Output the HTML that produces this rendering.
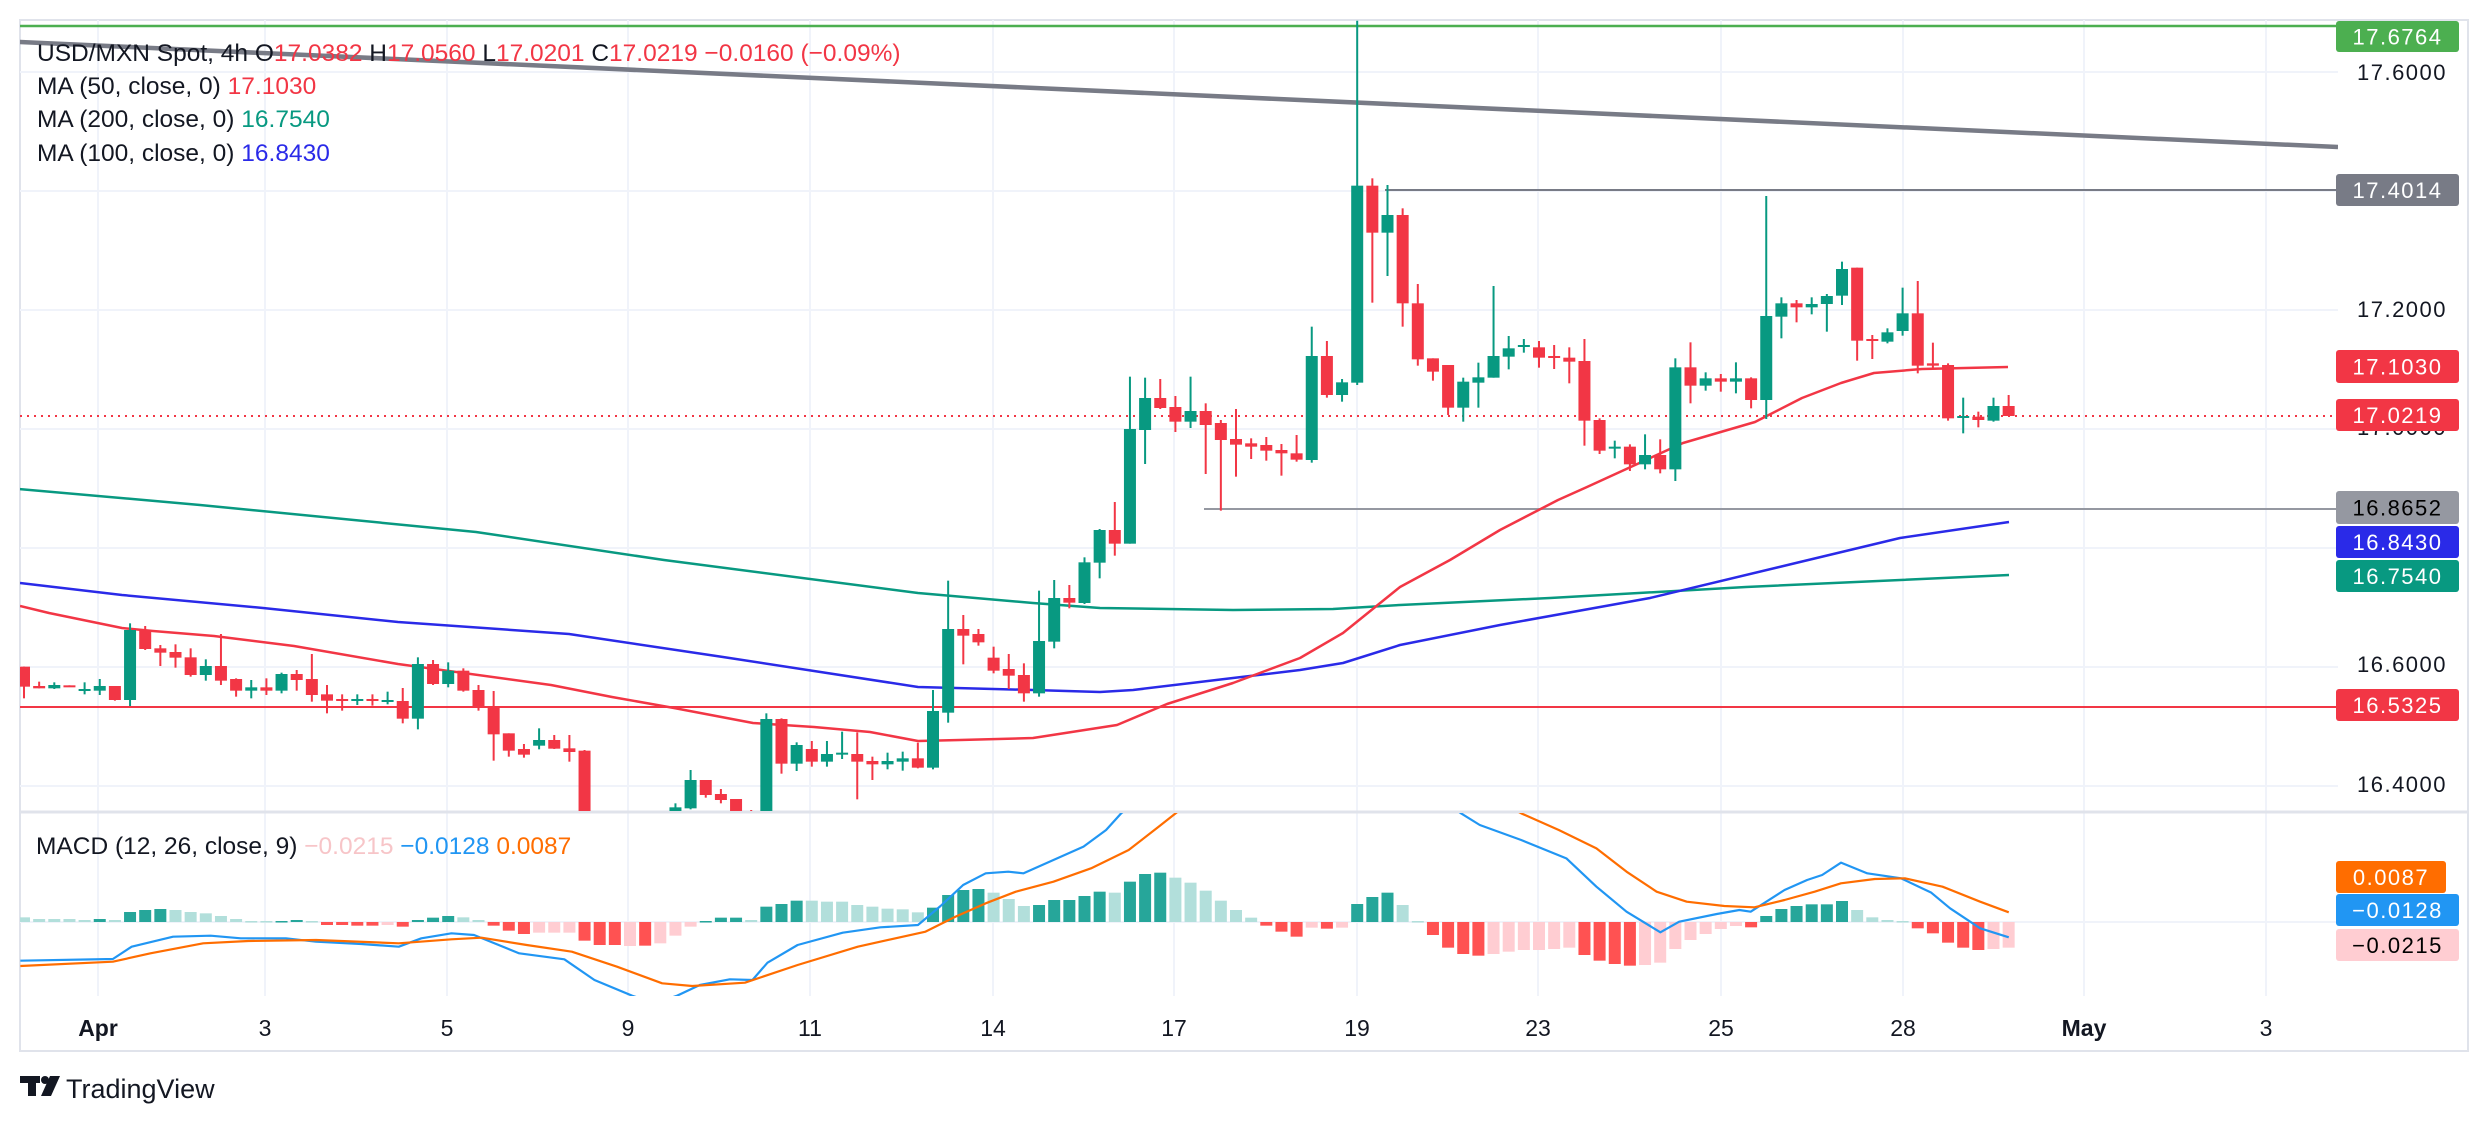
<!DOCTYPE html>
<html><head><meta charset="utf-8"><style>
html,body{margin:0;padding:0;background:#fff;width:2488px;height:1122px;overflow:hidden}
svg{display:block}
text{font-family:"Liberation Sans",sans-serif}
</style></head><body>
<svg id="s" width="2488" height="1122" viewBox="0 0 2488 1122" xmlns="http://www.w3.org/2000/svg">
<defs>
<clipPath id="cm"><rect x="20" y="20" width="2318" height="791"/></clipPath>
<clipPath id="cd"><rect x="20" y="813" width="2318" height="183"/></clipPath>
</defs>
<rect x="20" y="20" width="2448" height="1031" fill="#fff" stroke="#e0e3eb" stroke-width="2"/>
<g id="grid" stroke="#f0f3fa" stroke-width="2"></g>
<line x1="20" y1="812" x2="2468" y2="812" stroke="#e0e3eb" stroke-width="3"/>
<g id="main" clip-path="url(#cm)"></g>
<g id="macd" clip-path="url(#cd)"></g>
<g id="axis"></g>
<g font-size="24.5" fill="#131722">
<text x="37" y="61"><tspan fill="#131722">USD/MXN Spot, 4h  O</tspan><tspan fill="#f23645">17.0382</tspan><tspan>  H</tspan><tspan fill="#f23645">17.0560</tspan><tspan>  L</tspan><tspan fill="#f23645">17.0201</tspan><tspan>  C</tspan><tspan fill="#f23645">17.0219</tspan><tspan fill="#f23645">  −0.0160 (−0.09%)</tspan></text>
<text x="37" y="94">MA (50, close, 0)  <tspan fill="#f23645">17.1030</tspan></text>
<text x="37" y="127">MA (200, close, 0)  <tspan fill="#089981">16.7540</tspan></text>
<text x="37" y="161">MA (100, close, 0)  <tspan fill="#2a2ae8">16.8430</tspan></text>
<text x="36" y="854">MACD (12, 26, close, 9)  <tspan fill="#f7c5c8">−0.0215</tspan>  <tspan fill="#2196f3">−0.0128</tspan>  <tspan fill="#ff6d00">0.0087</tspan></text>
</g>
<g fill="#131722">
<rect x="20" y="1076" width="20" height="7"/><rect x="28" y="1076" width="8" height="20"/>
<circle cx="45" cy="1080" r="4"/>
<path d="M50 1076h10l-9 20h-10z"/>
<text x="66" y="1098" font-size="27">TradingView</text>
</g>
</svg>
<script>
const NS="http://www.w3.org/2000/svg";
function el(p,t,a,txt){const e=document.createElementNS(NS,t);for(const k in a)e.setAttribute(k,a[k]);if(txt!==undefined)e.textContent=txt;document.getElementById(p).appendChild(e);return e;}
const G="#089981",R="#f23645";
const X=i=>24+15.15*i;
[72,191,310,429,548,667,786,922].forEach(y=>el("grid","line",{x1:20,x2:2338,y1:y,y2:y}));
const tl=[["Apr",98,1],["3",265],["5",447],["9",628],["11",810],["14",993],["17",1174],["19",1357],["23",1538],["25",1721],["28",1903],["May",2084,1],["3",2266]];
tl.forEach(t=>{el("grid","line",{x1:t[1],x2:t[1],y1:20,y2:996});});
tl.forEach(t=>el("axis","text",{x:t[1],y:1036,"font-size":23,"text-anchor":"middle",fill:"#131722","font-weight":t[2]?"bold":"normal"},t[0]));
const A=[[0,'r',320,380,320,415],[1,'r',378,385,365,385],[2,'g',375,385,367,387],[3,'r',376,380,376,380],[4,'g',387,390,367,403],[5,'g',378,392,357,405],[6,'r',378,420,378,422],[7,'g',210,420,190,438],[8,'r',210,267,198,270],[9,'r',265,278,255,318],[10,'r',276,293,253,323],[11,'r',292,345,265,350],[12,'g',318,345,298,362],[13,'r',318,362,222,375],[14,'r',357,392,355,410],[15,'g',382,392,360,415],[16,'r',382,392,355,405],[17,'g',342,392,338,400],[18,'r',342,360,330,392],[19,'r',357,405,282,425],[20,'r',403,422,375,460],[21,'r',417,422,403,452],[22,'g',417,420,403,435],[23,'r',417,422,403,437],[24,'g',420,425,395,433],[25,'r',423,476,384,490],[26,'g',312,476,292,508],[27,'r',312,372,300,375],[28,'g',332,372,307,382],[29,'r',332,392,325,395],[30,'r',390,442,375,452],[31,'r',442,523,393,602],[32,'r',520,572,520,590],[33,'r',567,584,552,593],[34,'g',540,557,505,568],[35,'r',540,566,525,567],[36,'r',565,576,525,605],[37,'r',572,800,570,800],[43,'g',742,800,730,800],[44,'g',660,745,630,748],[45,'r',660,705,660,713],[46,'r',702,720,687,730],[47,'r',717,800,717,800],[48,'r',755,800,750,800],[49,'g',477,800,460,800],[50,'r',477,611,475,641],[51,'g',555,611,547,633],[52,'r',567,605,543,620],[53,'g',582,605,543,620],[54,'g',578,583,515,597],[55,'r',582,605,517,718],[56,'r',603,613,590,660],[57,'g',603,613,578,628],[58,'g',595,605,575,632],[59,'r',595,623,548,625]];
const B=[[60,'g',1113,1283,1050,1288],[61,'g',867,1118,722,1148],[62,'r',867,887,825,973],[63,'r',882,907,867,917],[64,'r',953,992,920,1000],[65,'r',987,1007,942,1047],[66,'r',1005,1060,970,1085],[67,'g',903,1060,752,1070],[68,'g',774,905,720,925],[69,'r',774,788,735,805],[70,'g',667,789,652,792],[71,'g',570,668,567,715],[72,'r',570,611,486,647],[73,'g',267,611,110,611],[74,'g',174,270,113,372],[75,'r',174,204,117,207],[76,'r',201,245,168,276],[77,'g',213,245,110,264],[78,'r',213,255,190,402],[79,'r',249,300,240,512],[80,'r',297,314,207,410],[81,'r',310,320,295,357],[82,'r',315,332,291,362],[83,'r',330,340,312,407],[84,'r',340,359,285,365]];
const C=[[85,'g',1068,1380,980,1388],[86,'r',1068,1185,1023,1193],[87,'g',1147,1185,1137,1205],[88,'g',557,1148,62,1155],[89,'r',557,698,535,908],[90,'g',645,698,555,828],[91,'r',645,910,625,980],[92,'r',910,1078,852,1097],[93,'r',1075,1115,1075,1142],[94,'r',1095,1223,1095,1245],[95,'g',1145,1223,1133,1265],[96,'g',1132,1148,1088,1223],[97,'g',1068,1133,858,1133],[98,'g',1045,1070,1008,1108],[99,'g',1035,1040,1017,1058],[100,'r',1042,1073,1023,1103],[101,'r',1068,1073,1035,1107],[102,'r',1073,1085,1042,1150],[103,'r',1083,1262,1017,1337],[104,'r',1260,1352,1255,1362],[105,'g',1340,1345,1322,1375],[106,'r',1340,1393,1333,1413],[107,'g',1365,1393,1303,1408],[108,'r',1365,1408,1318,1420],[109,'g',1102,1408,1075,1443],[110,'r',1102,1157,1027,1210],[111,'g',1135,1157,1117,1172],[112,'r',1135,1145,1122,1175],[113,'g',1135,1145,1087,1180],[114,'r',1135,1200,1132,1225],[115,'g',948,1200,588,1257],[116,'g',910,950,892,1015],[117,'r',910,922,900,967],[118,'g',912,922,892,943],[119,'g',888,912,882,995],[120,'g',807,887,785,915],[121,'r',803,1022,803,1082],[122,'r',1017,1022,1005,1077],[123,'g',997,1025,985,1030],[124,'g',940,993,863,1007],[125,'r',940,1097,843,1120],[126,'r',1090,1097,1028,1105],[127,'r',1095,1255,1090,1262],[128,'g',1248,1252,1193,1300],[129,'r',1250,1260,1235,1282],[130,'g',1218,1262,1193,1265],[131,'r',1218,1248,1185,1248]];
const cand=[];
A.forEach(d=>cand.push([d[0],d[1],560+d[2]/3,560+d[3]/3,560+d[4]/3,560+d[5]/3]));
B.forEach(d=>cand.push([d[0],d[1],340+d[2]/3,340+d[3]/3,340+d[4]/3,340+d[5]/3]));
C.forEach(d=>cand.push([d[0],d[1],d[2]/3,d[3]/3,d[4]/3,d[5]/3]));
el("main","line",{x1:20,x2:2338,y1:26,y2:26,stroke:"#4caf50","stroke-width":2.5});
el("main","line",{x1:19,x2:2338,y1:42,y2:147,stroke:"#787b86","stroke-width":4.5});
el("main","line",{x1:1385,x2:2338,y1:190,y2:190,stroke:"#787b86","stroke-width":2});
el("main","line",{x1:1204,x2:2338,y1:509,y2:509,stroke:"#9598a1","stroke-width":2});
el("main","line",{x1:20,x2:2338,y1:707,y2:707,stroke:"#f23645","stroke-width":2});
el("main","line",{x1:20,x2:2338,y1:416,y2:416,stroke:"#f23645","stroke-width":2,"stroke-dasharray":"2 5"});
const pl=(p,pts,c,w)=>el(p,"polyline",{points:pts.map(q=>q.join(",")).join(" "),fill:"none",stroke:c,"stroke-width":w,"stroke-linejoin":"round"});
pl("main",[[19,489],[200,505],[476,532],[664,560],[918,593],[1033,603],[1100,608],[1233,610],[1333,609],[1400,605],[1550,598],[1746,587],[2009,575]],"#089981",2.5);
pl("main",[[20,583],[122,595],[263,608],[398,622],[569,634],[723,657],[918,687],[1033,690],[1100,692],[1133,690],[1233,678],[1300,670],[1343,663],[1400,645],[1500,625],[1650,598],[1800,562],[1900,538],[2009,522]],"#2a2ae8",2.5);
pl("main",[[20,606],[49,613],[122,628],[153,631],[214,636],[294,646],[398,664],[551,685],[612,697],[674,708],[753,723],[814,727],[870,732],[918,741],[960,740],[1033,738],[1117,725],[1167,704],[1233,683],[1300,658],[1343,633],[1400,587],[1450,560],[1500,530],[1558,500],[1587,487],[1683,443],[1755,422],[1802,398],[1841,383],[1874,373],[1922,369],[2008,367]],"#f23645",2.5);
cand.forEach(d=>{const x=X(d[0]),c=d[1]=='g'?G:R;
el("main","rect",{x:x-1,y:d[4],width:2,height:Math.max(1,d[5]-d[4]),fill:c});
el("main","rect",{x:x-6,y:d[2],width:12,height:Math.max(2,d[3]-d[2]),fill:c});});
const H1=[[322,'l'],[327,'l'],[327,'l'],[327,'l'],[330,'l'],[327,'d'],[330,'l'],[306,'d'],[300,'d'],[297,'d'],[300,'l'],[306,'l'],[310,'l'],[318,'l'],[327,'l'],[333,'l'],[333,'l'],[333,'d'],[330,'d'],[333,'l'],[345,'r'],[345,'r'],[347,'r'],[347,'r'],[345,'p'],[350,'r'],[330,'d'],[323,'d'],[318,'d'],[322,'l'],[330,'l'],[347,'r'],[362,'r'],[372,'r'],[368,'p'],[368,'p'],[368,'p'],[392,'r'],[405,'r'],[405,'r'],[408,'p'],[407,'r'],[400,'p'],[377,'p'],[350,'p'],[333,'d'],[323,'d'],[323,'d'],[330,'l'],[290,'d'],[282,'d'],[272,'d'],[272,'l'],[275,'l'],[275,'l'],[285,'l'],[290,'l'],[296,'l'],[298,'l'],[307,'l'],[293,'d'],[255,'d'],[240,'d'],[237,'d'],[248,'l'],[267,'l'],[288,'l'],[285,'d'],[270,'d'],[270,'d'],[258,'d'],[245,'d'],[248,'l'],[215,'d'],[192,'d'],[188,'d'],[203,'l'],
[218,'l'],[242,'l'],[272,'l'],[300,'l'],[323,'l'],[347,'r'],[365,'r'],[380,'r'],[353,'p'],[356,'r'],[353,'p'],[282,'d'],[261,'d'],[248,'d'],[285,'l'],[333,'l'],[375,'r'],[413,'r'],[432,'r'],[437,'r'],[432,'p'],[425,'p'],[420,'p'],[420,'p'],[417,'p'],[413,'p'],[435,'r'],[452,'r'],[462,'r'],[467,'r'],[465,'p'],[458,'p'],[417,'p'],[390,'p'],[372,'p'],[357,'p'],[348,'p'],[352,'r'],[318,'d'],[297,'d'],[288,'d'],[283,'d'],[283,'d'],[273,'d'],[300,'l'],[322,'l'],[330,'l'],[333,'l'],[355,'r'],[370,'r'],[398,'r'],[413,'r'],[420,'r'],[417,'p'],[413,'p']];
const HC={d:"#26a69a",l:"#b2dfdb",r:"#ff5252",p:"#ffcdd2"};
H1.forEach((h,i)=>{const y=810+h[0]/3,z=922,x=X(i);el("macd","rect",{x:x-6,y:Math.min(y,z),width:12,height:Math.max(1.5,Math.abs(y-z)),fill:HC[h[1]]});});
const cv6=a=>a.map(p=>[p[0]/1.329,810+p[1]/3]),cv7=a=>a.map(p=>[1160+p[0]/1.329,810+p[1]/3]);
const blue=cv6([[27,452],[150,447],[175,410],[230,380],[280,377],[320,385],[380,385],[420,395],[480,402],[530,410],[560,385],[600,370],[630,375],[690,430],[750,448],[790,510],[840,557],[870,580],[900,557],[930,525],[970,508],[1000,510],[1020,458],[1060,405],[1120,368],[1170,352],[1220,345],[1250,288],[1280,225],[1310,190],[1340,185],[1360,190],[1400,150],[1440,110],[1470,60],[1490,10],[1540,-80]]).concat(cv7([[360,-60],[400,10],[425,45],[480,90],[540,145],[580,230],[620,305],[665,367],[690,335],[740,312],[770,300],[785,305],[830,240],[860,210],[880,195],[905,158],[940,190],[985,205],[1025,248],[1050,295],[1090,355],[1128,382]]));
const org=cv6([[27,468],[150,455],[200,430],[270,400],[330,393],[420,390],[530,400],[600,388],[640,383],[700,405],[760,425],[820,470],[880,520],[920,528],[990,518],[1060,465],[1140,410],[1230,365],[1270,320],[1310,280],[1350,245],[1400,215],[1450,175],[1500,120],[1540,50],[1568,0],[1600,-60]]).concat(cv7([[440,-40],[480,10],[530,60],[580,115],[620,185],[660,245],[700,275],[750,288],[790,292],[830,270],[870,245],[905,220],[950,207],[990,205],[1040,230],[1090,275],[1128,307]]));
pl("macd",blue,"#2196f3",2.2);pl("macd",org,"#ff6d00",2.2);
[[17.6,72],[17.2,309],[17.0,427],[16.6,664],[16.4,784]].forEach(t=>el("axis","text",{x:2402,y:t[1]+8,"font-size":22,"text-anchor":"middle",fill:"#131722","letter-spacing":"1.5"},t[0].toFixed(4)));
const L=[["17.6764",21,52,"#4caf50","#fff",2459],["17.4014",174,206,"#787b86","#fff",2459],["17.1030",350,383,"#f23645","#fff",2459],["17.0219",399,431,"#f23645","#fff",2459],["16.8652",491,524,"#9598a1","#000",2459],["16.8430",526,558,"#2a2ae8","#fff",2459],["16.7540",560,592,"#089981","#fff",2459],["16.5325",689,721,"#f23645","#fff",2459],["0.0087",861,893,"#ff6d00","#fff",2446],["−0.0128",894,926,"#2196f3","#fff",2459],["−0.0215",929,961,"#ffcdd2","#000",2459]];
L.forEach(l=>{el("axis","rect",{x:2336,y:l[1],width:l[5]-2336,height:l[2]-l[1],rx:3,fill:l[3]});
el("axis","text",{x:(2336+l[5])/2,y:(l[1]+l[2])/2+8,"font-size":22,"text-anchor":"middle",fill:l[4],"letter-spacing":"1.5"},l[0]);});
</script>
</body></html>
